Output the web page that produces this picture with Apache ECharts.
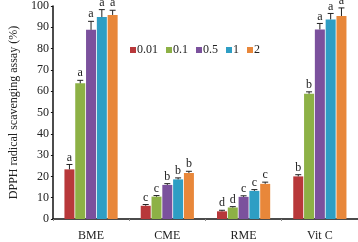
<!DOCTYPE html>
<html>
<head>
<meta charset="utf-8">
<script src="https://cdn.jsdelivr.net/npm/echarts@6/dist/echarts.min.js"></script>
<style>
  html, body { margin: 0; padding: 0; background: #fff; }
  #chart { width: 358px; height: 242px; }
</style>
</head>
<body>
<div id="chart"></div>
<script>
var categories = ['BME', 'CME', 'RME', 'Vit C'];
var concentrations = ['0.01', '0.1', '0.5', '1', '2'];
var colors = ['#b8383a', '#8db146', '#7b519d', '#2e9ec4', '#e8873a'];

// mean values per concentration, in category order
var values = [
  [23.3, 6.2, 3.6, 20.0],
  [63.7, 10.5, 5.4, 58.8],
  [88.8, 16.0, 10.4, 89.0],
  [94.8, 18.6, 13.2, 93.7],
  [95.8, 21.6, 16.5, 95.3]
];
// error bar sizes
var errors = [
  [2.3, 0.6, 0.5, 0.8],
  [1.4, 0.5, 0.4, 0.9],
  [4.0, 0.6, 0.5, 2.8],
  [3.5, 0.7, 0.6, 2.8],
  [2.2, 0.8, 0.8, 3.8]
];
// significance letters
var letters = [
  ['a', 'c', 'd', 'b'],
  ['a', 'c', 'd', 'b'],
  ['a', 'b', 'c', 'a'],
  ['a', 'b', 'c', 'a'],
  ['a', 'b', 'c', 'a']
];
var yTicks = [0, 10, 20, 30, 40, 50, 60, 70, 80, 90, 100];

var BAR_W = 10;
var BAR_GAP = 0.08;
var FONT = '"Liberation Serif", "DejaVu Serif", serif';

var chart = echarts.init(document.getElementById('chart'));

var series = [];
concentrations.forEach(function (name, i) {
  series.push({
    name: name,
    type: 'bar',
    data: values[i],
    barWidth: BAR_W,
    barGap: (BAR_GAP * 100) + '%',
    itemStyle: { color: colors[i] }
  });
});
// error bars + letters, placed over the matching bar
concentrations.forEach(function (name, i) {
  var offset = (i - 2) * BAR_W * (1 + BAR_GAP);
  series.push({
    type: 'custom',
    silent: true,
    clip: false,
    z: 5,
    data: categories.map(function (c, k) {
      return [k, values[i][k], errors[i][k]];
    }),
    renderItem: function (params, api) {
      var k = api.value(0);
      var top = api.coord([k, api.value(1)]);
      var cap = api.coord([k, api.value(1) + api.value(2)]);
      var x = top[0] + offset;
      var style = { stroke: '#222', lineWidth: 1 };
      return {
        type: 'group',
        children: [
          { type: 'line', shape: { x1: x, y1: top[1], x2: x, y2: cap[1] }, style: style },
          { type: 'line', shape: { x1: x - 3, y1: cap[1], x2: x + 3, y2: cap[1] }, style: style },
          {
            type: 'text',
            style: {
              x: x, y: cap[1] - 1,
              text: letters[i][k],
              align: 'center', verticalAlign: 'bottom',
              font: '12px ' + FONT, fill: '#222'
            }
          }
        ]
      };
    }
  });
});

var option = {
  backgroundColor: '#fff',
  animation: false,
  grid: { left: 40, top: 5.7, width: 320, bottom: 21.3, containLabel: false },
  legend: {
    data: concentrations,
    left: 125,
    top: 39,
    icon: 'rect',
    itemWidth: 6,
    itemHeight: 6,
    itemGap: 8,
    textStyle: { fontFamily: FONT, fontSize: 12, color: '#222', padding: [0, 0, 0, -4] }
  },
  xAxis: {
    type: 'category',
    data: categories,
    axisLine: { lineStyle: { color: '#111', width: 1.5 } },
    axisTick: { show: true, alignWithLabel: false, length: 2, lineStyle: { color: '#888' } },
    axisLabel: { fontFamily: FONT, fontSize: 12, color: '#222', margin: 11 }
  },
  yAxis: {
    type: 'value',
    min: yTicks[0],
    max: yTicks[yTicks.length - 1],
    interval: yTicks[1] - yTicks[0],
    name: 'DPPH radical scavenging assay (%)',
    nameLocation: 'middle',
    nameGap: 27,
    nameTextStyle: { fontFamily: FONT, fontSize: 12, color: '#222' },
    axisLine: { show: true, lineStyle: { color: '#111', width: 1.5 } },
    axisTick: { show: true, length: 2, lineStyle: { color: '#111' } },
    splitLine: { show: false },
    axisLabel: { fontFamily: FONT, fontSize: 12, color: '#222', margin: 4 }
  },
  series: series
};

chart.setOption(option);
</script>
</body>
</html>
